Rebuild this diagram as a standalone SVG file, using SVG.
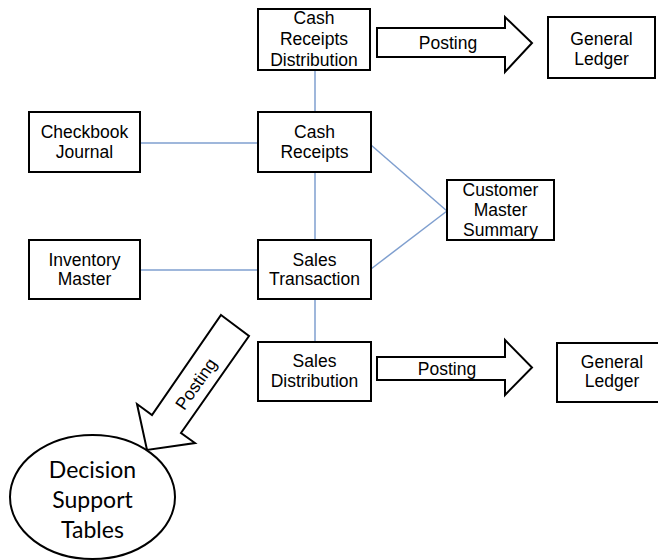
<svg xmlns="http://www.w3.org/2000/svg" width="658" height="560" viewBox="0 0 658 560">
  <style>
    .box { fill: #ffffff; stroke: #000000; stroke-width: 2; }
    .block { fill: #ffffff; stroke: #000000; stroke-width: 2; stroke-linejoin: miter; }
    .link { stroke: #7f9fcf; stroke-width: 1.5; fill: none; }
    .lbl { font-family: "Liberation Sans", Arial, sans-serif; font-size: 17.5px; fill: #000000; text-anchor: middle; }
    .oval { font-family: Lato, "Open Sans", sans-serif; font-size: 23px; fill: #000000; text-anchor: middle; }
  </style>
  <rect width="658" height="560" fill="#ffffff"/>

  <!-- connectors -->
  <g id="connectors">
    <line class="link" x1="315" y1="70" x2="315" y2="112"/>
    <line class="link" x1="315" y1="172" x2="315" y2="240"/>
    <line class="link" x1="315" y1="299" x2="315" y2="342"/>
    <line class="link" x1="140" y1="143" x2="258" y2="143"/>
    <line class="link" x1="140" y1="270" x2="258" y2="270"/>
    <line class="link" x1="371" y1="145" x2="447" y2="211"/>
    <line class="link" x1="371" y1="269" x2="447" y2="211"/>
  </g>

  <!-- block arrows labelled Posting -->
  <g id="posting-top">
    <polygon class="block" points="377,28 505,28 505,17 532,43 505,72 505,57 377,57"/>
    <text class="lbl" x="448" y="49">Posting</text>
  </g>
  <g id="posting-bottom">
    <polygon class="block" points="377,357 505,357 505,340 532,367.5 505,395 505,380 377,380"/>
    <text class="lbl" x="447" y="375">Posting</text>
  </g>
  <g id="posting-diagonal">
    <polygon class="block" points="221,315 249,336 181,433 195,443 147,450 137,404 152,415"/>
    <text class="lbl" transform="translate(196,384) rotate(-55)" x="0" y="6">Posting</text>
  </g>

  <!-- nodes -->
  <g id="cash-receipts-distribution">
    <rect class="box" x="258" y="9" width="112" height="61"/>
    <text class="lbl" x="314" y="24">Cash</text>
    <text class="lbl" x="314" y="45">Receipts</text>
    <text class="lbl" x="314" y="65.5">Distribution</text>
  </g>
  <g id="general-ledger-top">
    <rect class="box" x="548" y="17" width="107" height="61"/>
    <text class="lbl" x="601.5" y="45">General</text>
    <text class="lbl" x="601.5" y="64.5">Ledger</text>
  </g>
  <g id="checkbook-journal">
    <rect class="box" x="29" y="112" width="111" height="60"/>
    <text class="lbl" x="84.5" y="138">Checkbook</text>
    <text class="lbl" x="84.5" y="158">Journal</text>
  </g>
  <g id="cash-receipts">
    <rect class="box" x="258" y="112" width="113" height="60"/>
    <text class="lbl" x="314.5" y="138">Cash</text>
    <text class="lbl" x="314.5" y="158">Receipts</text>
  </g>
  <g id="customer-master-summary">
    <rect class="box" x="447" y="180" width="107" height="60"/>
    <text class="lbl" x="500.5" y="196">Customer</text>
    <text class="lbl" x="500.5" y="216">Master</text>
    <text class="lbl" x="500.5" y="236">Summary</text>
  </g>
  <g id="inventory-master">
    <rect class="box" x="29" y="240" width="111" height="59"/>
    <text class="lbl" x="84.5" y="266">Inventory</text>
    <text class="lbl" x="84.5" y="285">Master</text>
  </g>
  <g id="sales-transaction">
    <rect class="box" x="258" y="240" width="113" height="59"/>
    <text class="lbl" x="314.5" y="266">Sales</text>
    <text class="lbl" x="314.5" y="285">Transaction</text>
  </g>
  <g id="sales-distribution">
    <rect class="box" x="258" y="342" width="113" height="59"/>
    <text class="lbl" x="314.5" y="367">Sales</text>
    <text class="lbl" x="314.5" y="387">Distribution</text>
  </g>
  <g id="general-ledger-bottom">
    <rect class="box" x="557" y="343" width="108" height="59"/>
    <text class="lbl" x="612" y="368">General</text>
    <text class="lbl" x="612" y="387">Ledger</text>
  </g>
  <g id="decision-support-tables">
    <ellipse class="box" cx="92.5" cy="497" rx="82.5" ry="62"/>
    <text class="oval" x="92.5" y="478">Decision</text>
    <text class="oval" x="92.5" y="508">Support</text>
    <text class="oval" x="92.5" y="538">Tables</text>
  </g>
</svg>
